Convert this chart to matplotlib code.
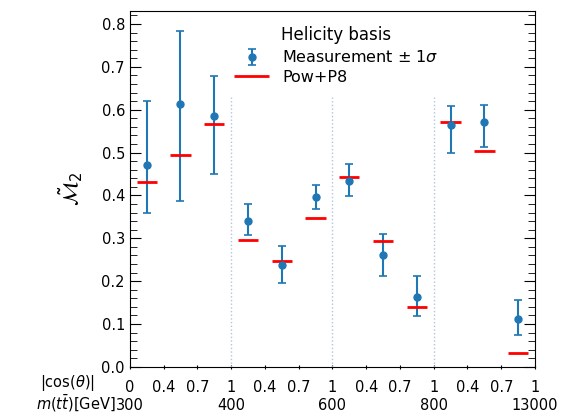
import numpy as np
import matplotlib
matplotlib.use('Agg')
import matplotlib.pyplot as plt
from matplotlib.ticker import MultipleLocator

# bins: 4 m(tt) slices x 3 |cos(theta)| bins
meas = [0.470, 0.614, 0.585, 0.341, 0.237, 0.396, 0.434, 0.260, 0.163, 0.565, 0.571, 0.112]
meas_up = [0.620, 0.783, 0.679, 0.380, 0.282, 0.424, 0.474, 0.311, 0.213, 0.608, 0.612, 0.156]
meas_down = [0.358, 0.388, 0.450, 0.307, 0.195, 0.369, 0.398, 0.212, 0.119, 0.498, 0.514, 0.074]
pred = [0.431, 0.495, 0.566, 0.296, 0.248, 0.347, 0.443, 0.293, 0.139, 0.572, 0.503, 0.032]

cos_labels = ['0', '0.4', '0.7', '1', '0.4', '0.7', '1', '0.4', '0.7', '1', '0.4', '0.7', '1']
mass_labels = ['300', '400', '600', '800', '13000']

meas = np.array(meas)
err = [meas - np.array(meas_down), np.array(meas_up) - meas]
nbins = len(meas)
centers = np.arange(nbins) + 0.5

fig = plt.figure(figsize=(5.62, 4.15), dpi=100)
ax = fig.add_axes([0.231, 0.116, 0.721, 0.857])

h_meas = ax.errorbar(centers, meas, yerr=err, fmt='o', color='tab:blue', ms=5,
                     elinewidth=1.5, capsize=3, capthick=1.2)
h_pred = ax.hlines(pred, centers - 0.3, centers + 0.3, color='red', lw=2)

# slice separators
ax.vlines([3, 6, 9], 0, 0.63, colors='lightsteelblue', linestyles=':', lw=1)

ax.set_xlim(0, nbins)
ax.set_ylim(0, 0.83)
ax.set_ylabel(r'$\tilde{\mathcal{M}}_2$', fontsize=15, labelpad=12)

ticklabels = []
for i, c in enumerate(cos_labels):
    if i % 3 == 0:
        ticklabels.append(c + '\n' + mass_labels[i // 3])
    else:
        ticklabels.append(c + '\n')
ax.set_xticks(range(nbins + 1))
ax.set_xticklabels(ticklabels, fontsize=10.5, linespacing=1.25)
for i, t in enumerate(ax.xaxis.get_major_ticks()):
    if i % 3 == 0:
        t.tick1line.set_markersize(11)
    else:
        t.tick1line.set_markersize(5)
ax.tick_params(axis='x', direction='inout', pad=8)

ax.yaxis.set_major_locator(MultipleLocator(0.1))
ax.yaxis.set_minor_locator(MultipleLocator(0.02))
ax.tick_params(axis='y', which='both', direction='in', left=True, right=True, labelsize=10.5)
ax.tick_params(axis='y', which='major', length=8)
ax.tick_params(axis='y', which='minor', length=5)

fig.text(95 / 562, 1 - 383 / 415, r'|cos($\theta$)|', ha='right', va='center', fontsize=10.5)
fig.text(116 / 562, 1 - 403 / 415, r'$m(t\bar{t})$[GeV]', ha='right', va='center', fontsize=10.5)

ax.legend([h_meas, h_pred], [r'Measurement $\pm$ 1$\sigma$', 'Pow+P8'],
          title='Helicity basis', loc='upper center', bbox_to_anchor=(0.51, 1.0),
          frameon=False, fontsize=11.5, title_fontsize=12, handlelength=2.2,
          labelspacing=0.3, borderaxespad=0.55)

fig.savefig('out.png', dpi=100)
